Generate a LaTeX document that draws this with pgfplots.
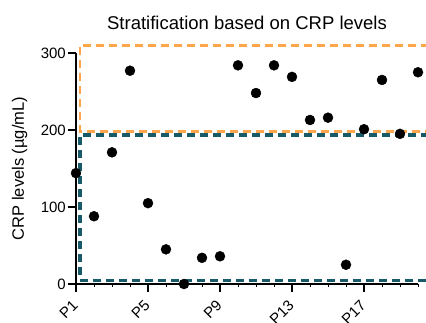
\documentclass[border=0pt]{standalone}
\usepackage{pgfplots}
\pgfplotsset{compat=1.18}
\usepackage{fontspec}
\setmainfont{Liberation Sans}
\definecolor{hiorange}{RGB}{255,165,75}
\definecolor{tealline}{RGB}{25,90,105}
\begin{document}
\begin{tikzpicture}
\begin{axis}[
  x=18pt, y=0.77pt,
  xmin=1, xmax=20, ymin=0, ymax=300,
  axis lines=left,
  axis line style={line width=1.8pt,-},
  every tick/.style={black, line width=1.8pt},
  minor tick style={black, line width=0.8pt},
  tick align=outside,
  major tick length=8pt,
  minor tick length=3pt,
  xtick={1,5,9,13,17},
  xticklabels={P1,P5,P9,P13,P17},
  minor xtick={1,...,20},
  ytick={0,100,200,300},
  /pgf/number format/assume math mode=true,
  tick label style={font=\fontsize{15}{17}\selectfont},
  xticklabel style={rotate=45, anchor=north east, inner sep=1pt, xshift=-7pt, yshift=-0.5pt},
  yticklabel style={inner sep=2pt},
  title={Stratification based on CRP levels},
  title style={font=\fontsize{18.5}{20}\selectfont, yshift=14pt},
  ylabel={CRP levels (µg/mL)},
  ylabel style={font=\fontsize{16.5}{18}\selectfont, yshift=8pt},
  clip=false,
]
\addplot[draw=tealline, line width=3.2pt, dash pattern=on 8pt off 5pt]
  coordinates {(20.6,193.5) (1.22,193.5) (1.22,5) (20.6,5)};
\addplot[draw=hiorange, line width=2.6pt, dash pattern=on 8pt off 5pt]
  coordinates {(20.6,310) (1.22,310) (1.22,198) (20.6,198)};
\addplot[only marks, mark=*, mark size=5pt, black] coordinates {
 (1,144) (2,88) (3,171) (4,277) (5,105) (6,45) (7,0) (8,34) (9,36) (10,284)
 (11,248) (12,284) (13,269) (14,213) (15,216) (16,25) (17,201) (18,265) (19,195) (20,275)
};
\end{axis}
\pgfresetboundingbox
\useasboundingbox (-76pt,-38pt) rectangle (350pt,284pt);
\end{tikzpicture}
\end{document}
